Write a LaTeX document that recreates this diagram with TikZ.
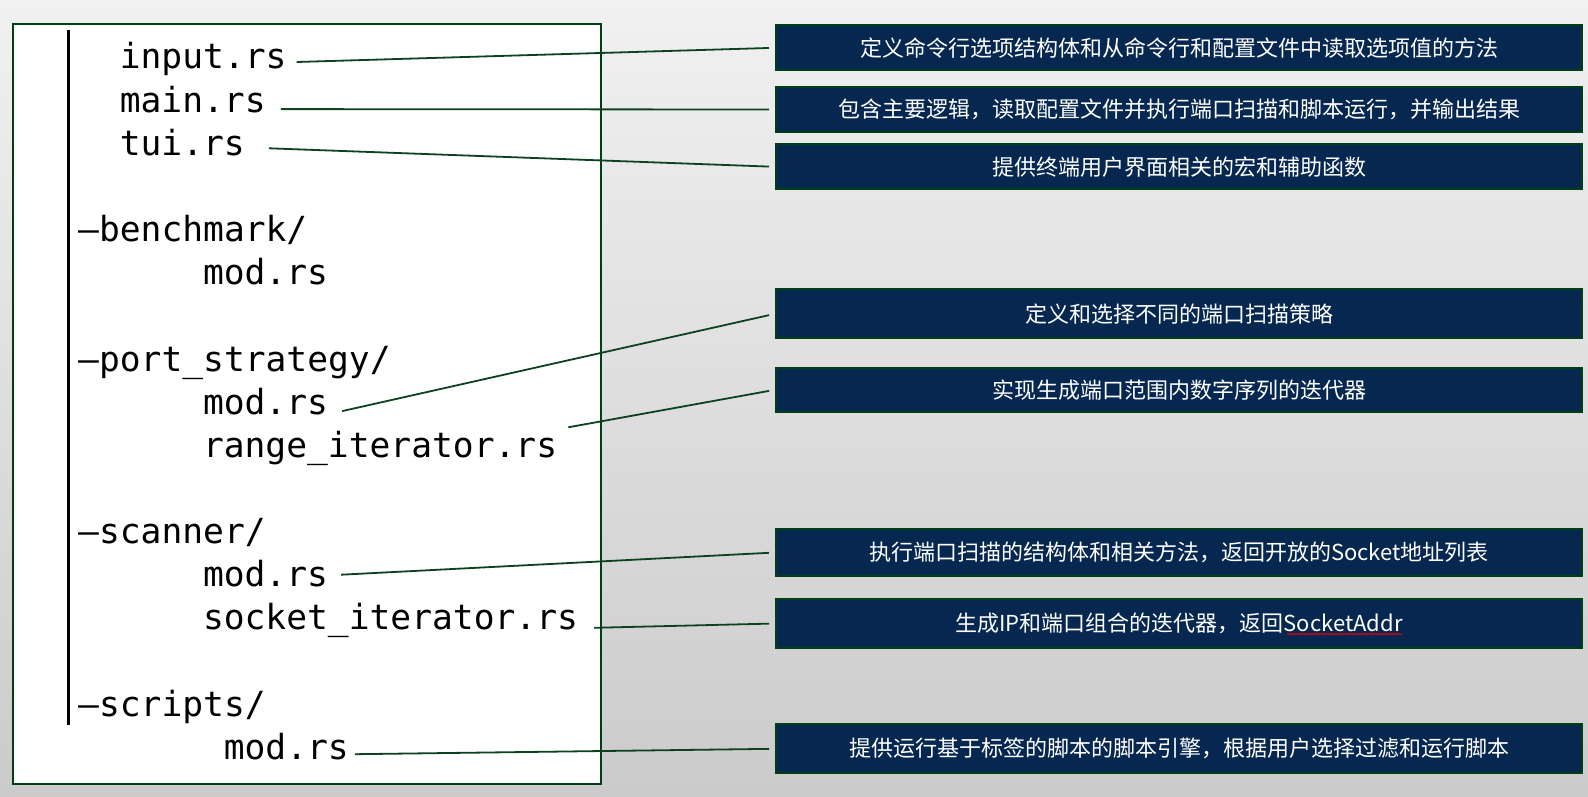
\documentclass[tikz,border=0pt]{standalone}
\usepackage{fontspec}
\setmonofont{DejaVu Sans Mono}
\newfontfamily\cjk{Noto Sans CJK SC}
\usetikzlibrary{decorations.pathmorphing}
\definecolor{navy}{RGB}{6,40,80}
\definecolor{boxgreen}{RGB}{0,62,22}
\definecolor{wire}{RGB}{12,66,32}
\definecolor{bgtop}{RGB}{241,241,241}
\definecolor{bgbottom}{RGB}{203,203,203}
\tikzstyle{file} = [anchor=base west,inner sep=0pt,font=\ttfamily\fontsize{34.6}{40}\selectfont]
\tikzstyle{desc} = [draw=boxgreen,line width=2pt,fill=navy,text=white,anchor=north west,minimum width=806pt,inner sep=0pt,font=\cjk\fontsize{22}{26}\selectfont]
\tikzstyle{link} = [draw=wire,line width=1.8pt,shorten >=6pt]
\begin{document}
\begin{tikzpicture}[x=1pt,y=-1pt]
		\useasboundingbox (0,0) rectangle (1588,797);
		\shade[top color=bgtop,bottom color=bgbottom] (0,0) rectangle (1588,797);
		\draw[draw=boxgreen,line width=1.8pt,fill=white] (12.7,24.3) rectangle (601,784);
		\draw[line width=3pt] (68.3,30) -- (68.3,725);
		
		\node [file](input) at (119.6,69){input.rs};
		\node [file](main) at (119.6,112.1){main.rs};
		\node [file](tui) at (119.6,155.3){tui.rs};
		\node [file](bench) at (78,241.6){—benchmark/};
		\node [file](benchmod) at (202.8,284.7){mod.rs};
		\node [file](port) at (78,371){—port\_strategy/};
		\node [file](portmod) at (202.8,414.1){mod.rs};
		\node [file](range) at (202.8,457.3){range\_iterator.rs};
		\node [file](scan) at (78,543.5){—scanner/};
		\node [file](scanmod) at (202.8,586.7){mod.rs};
		\node [file](socket) at (202.8,629.8){socket\_iterator.rs};
		\node [file](scripts) at (78,716.1){—scripts/};
		\node [file](scriptsmod) at (223.6,759.2){mod.rs};
		
		\node [desc,minimum height=45pt](d1) at (775,24.3){定义命令行选项结构体和从命令行和配置文件中读取选项值的方法};
		\node [desc,minimum height=45pt](d2) at (775,86){包含主要逻辑，读取配置文件并执行端口扫描和脚本运行，并输出结果};
		\node [desc,minimum height=45pt](d3) at (775,143.3){提供终端用户界面相关的宏和辅助函数};
		\node [desc,minimum height=49pt](d4) at (775,288.3){定义和选择不同的端口扫描策略};
		\node [desc,minimum height=44pt](d5) at (775,366.8){实现生成端口范围内数字序列的迭代器};
		\node [desc,minimum height=47pt](d6) at (775,528){执行端口扫描的结构体和相关方法，返回开放的Socket地址列表};
		\node [desc,minimum height=49pt](d7) at (775,598){生成IP和端口组合的迭代器，返回SocketAddr};
		\node [desc,minimum height=49pt](d8) at (775,723.3){提供运行基于标签的脚本的脚本引擎，根据用户选择过滤和运行脚本};
		% spell-check squiggle under SocketAddr
		\draw[red,line width=0.7pt,decorate,decoration={snake,amplitude=0.8pt,segment length=3pt}]
			([xshift=108pt,yshift=-10.5pt]d7.center)--([xshift=223pt,yshift=-10.5pt]d7.center);
		
		\draw[link]([xshift=10pt,yshift=7pt]input.base east)--(d1.west);
		\draw[link]([xshift=15pt,yshift=3pt]main.base east)--(d2.west);
		\draw[link]([xshift=24pt,yshift=7pt]tui.base east)--(d3.west);
		\draw[link]([xshift=14pt,yshift=3pt]portmod.base east)--(d4.west);
		\draw[link]([xshift=11pt,yshift=30pt]range.base east)--(d5.west);
		\draw[link]([xshift=13pt,yshift=12pt]scanmod.base east)--(d6.west);
		\draw[link]([xshift=16pt,yshift=2pt]socket.base east)--(d7.west);
		\draw[link]([xshift=6pt,yshift=5pt]scriptsmod.base east)--(d8.west);
\end{tikzpicture}
\end{document}
